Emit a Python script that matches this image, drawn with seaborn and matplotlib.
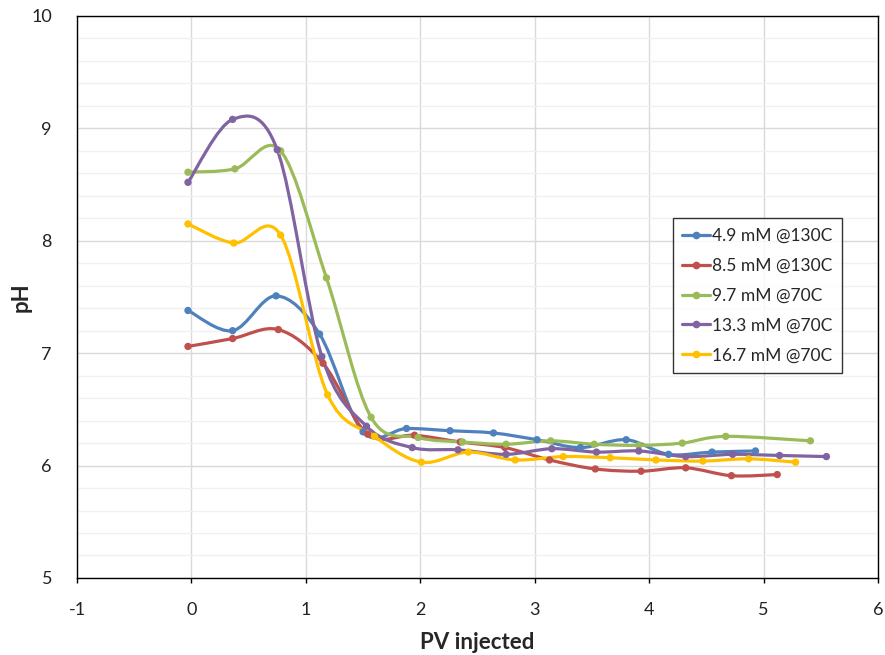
import matplotlib
matplotlib.use("Agg")

import numpy as np
import pandas as pd
import seaborn as sns
from matplotlib import pyplot as plt
from matplotlib.path import Path
from matplotlib.patches import PathPatch
from matplotlib.lines import Line2D
from matplotlib.ticker import MultipleLocator

SERIES_NAMES = ["4.9 mM @130C", "8.5 mM @130C", "9.7 mM @70C", "13.3 mM @70C", "16.7 mM @70C"]
SERIES_COLORS = ["#4F81BD", "#C0504D", "#9BBB59", "#8064A2", "#FFC000"]

pv_49 = [-0.03, 0.36, 0.74, 1.12, 1.50, 1.88, 2.26, 2.64, 3.02, 3.40, 3.80, 4.17, 4.55, 4.93]
ph_49 = [7.38, 7.20, 7.51, 7.17, 6.30, 6.33, 6.31, 6.29, 6.23, 6.16, 6.23, 6.10, 6.12, 6.13]

pv_85 = [-0.03, 0.36, 0.76, 1.15, 1.54, 1.95, 2.35, 2.74, 3.13, 3.53, 3.93, 4.32, 4.72, 5.12]
ph_85 = [7.06, 7.13, 7.21, 6.91, 6.28, 6.27, 6.21, 6.16, 6.05, 5.97, 5.95, 5.98, 5.91, 5.92]

pv_97 = [-0.03, 0.38, 0.78, 1.18, 1.57, 1.98, 2.37, 2.75, 3.14, 3.52, 3.91, 4.29, 4.67, 5.41]
ph_97 = [8.61, 8.64, 8.80, 7.67, 6.43, 6.25, 6.21, 6.19, 6.22, 6.19, 6.18, 6.20, 6.26, 6.22]

pv_133 = [-0.03, 0.36, 0.75, 1.14, 1.53, 1.93, 2.33, 2.75, 3.15, 3.54, 3.91, 4.32, 4.73, 5.14, 5.55]
ph_133 = [8.52, 9.08, 8.81, 6.97, 6.35, 6.16, 6.14, 6.10, 6.15, 6.12, 6.13, 6.08, 6.10, 6.09, 6.08]

pv_167 = [-0.03, 0.37, 0.78, 1.19, 1.60, 2.01, 2.42, 2.83, 3.25, 3.66, 4.06, 4.47, 4.87, 5.28]
ph_167 = [8.15, 7.98, 8.05, 6.63, 6.26, 6.03, 6.12, 6.05, 6.08, 6.07, 6.05, 6.04, 6.06, 6.03]

series_x = [pv_49, pv_85, pv_97, pv_133, pv_167]
series_y = [ph_49, ph_85, ph_97, ph_133, ph_167]

frames = []
for name, xs, ys in zip(SERIES_NAMES, series_x, series_y):
    frames.append(pd.DataFrame({"series": name, "pv": xs, "ph": ys}))
data = pd.concat(frames, ignore_index=True)


def smooth_path(xs, ys):
    # Excel-style smoothed line: cubic Bezier segments through the points
    pts = np.column_stack([xs, ys]).astype(float)
    n = len(pts)
    verts = [pts[0]]
    codes = [Path.MOVETO]
    for i in range(n - 1):
        p0 = pts[i - 1] if i > 0 else pts[i]
        p1 = pts[i]
        p2 = pts[i + 1]
        p3 = pts[i + 2] if i + 2 < n else pts[i + 1]
        c1 = p1 + (p2 - p0) / 6.0
        c2 = p2 - (p3 - p1) / 6.0
        verts += [c1, c2, p2]
        codes += [Path.CURVE4] * 3
    return Path(verts, codes)


sns.set_style("white")
plt.rcParams["font.family"] = ["Lato", "DejaVu Sans"]
plt.rcParams["axes.unicode_minus"] = False

fig = plt.figure(figsize=(8.85, 6.55), dpi=100)
ax = fig.add_axes([0.087, 0.1176, 0.905, 0.858])

for name, color, xs, ys in zip(SERIES_NAMES, SERIES_COLORS, series_x, series_y):
    ax.add_patch(PathPatch(smooth_path(xs, ys), facecolor="none", edgecolor=color,
                           linewidth=2.3, zorder=3, capstyle="round", joinstyle="round"))

sns.scatterplot(data=data, x="pv", y="ph", hue="series", palette=SERIES_COLORS,
                hue_order=SERIES_NAMES, s=28, linewidth=0, zorder=4, legend=False, ax=ax)

ax.set_xlim(-1, 6)
ax.set_ylim(5, 10)
ax.xaxis.set_major_locator(MultipleLocator(1))
ax.yaxis.set_major_locator(MultipleLocator(1))
ax.yaxis.set_minor_locator(MultipleLocator(0.2))
ax.grid(which="major", axis="both", color="#d9d9d9", linewidth=1.0, zorder=0)
ax.grid(which="minor", axis="y", color="#f0f0f0", linewidth=1.0, zorder=0)
ax.set_axisbelow(True)
ax.tick_params(axis="x", which="major", direction="out", length=3.6, width=1.0,
               color="black", bottom=True, labelsize=13, labelcolor="#222222", pad=14)
ax.tick_params(axis="y", which="both", length=0, labelsize=13, labelcolor="#222222", pad=18)
for spine in ax.spines.values():
    spine.set_visible(True)
    spine.set_color("black")
    spine.set_linewidth(1.0)

ax.set_xlabel("PV injected", fontsize=16, fontweight="bold", labelpad=10)
ax.set_ylabel("pH", fontsize=16, fontweight="bold", labelpad=0)

handles = [Line2D([0], [0], color=c, linewidth=2.3, marker="o", markersize=4.5)
           for c in SERIES_COLORS]
leg = ax.legend(handles, SERIES_NAMES, loc="upper left", bbox_to_anchor=(0.744, 0.64),
                fontsize=12.5, frameon=True, fancybox=False, handlelength=1.6,
                handletextpad=0.1, labelspacing=0.8, borderpad=0.55, borderaxespad=0)
leg.get_frame().set_edgecolor("black")
leg.get_frame().set_linewidth(1.0)

fig.savefig("out.png", dpi=100)
plt.close(fig)
